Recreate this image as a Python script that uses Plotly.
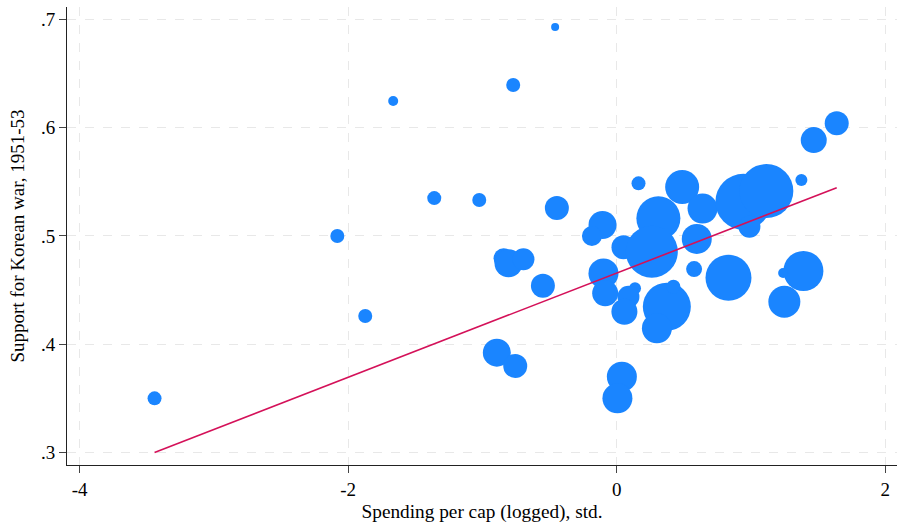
import plotly.graph_objects as go

# Spending per cap (logged), standardized
spending = [-3.442, -2.081, -1.873, -1.665, -1.359, -1.024, -0.771, -0.459, -0.446,
            1.638, 1.467, 1.375, 0.162, 0.487, 0.639, 0.943, 1.114, 0.988, 0.310,
            -0.106, -0.185, 0.050, 0.261, 0.596, 0.576, 0.832, 1.390, 1.248,
            -0.843, -0.806, -0.695, -0.550, -0.099, -0.086, 0.136, 0.087, 0.057,
            0.373, 0.422, 0.299, -0.893, -0.756, 0.038, 0.005, 1.239]
# Support for Korean war, 1951-53
support = [0.3499, 0.4999, 0.4260, 0.6247, 0.5350, 0.5332, 0.6395, 0.6931, 0.5258,
           0.6041, 0.5886, 0.5517, 0.5486, 0.5452, 0.5253, 0.5316, 0.5415, 0.5085, 0.5163,
           0.5101, 0.4999, 0.4895, 0.4854, 0.4972, 0.4694, 0.4614, 0.4676, 0.4392,
           0.4793, 0.4747, 0.4784, 0.4540, 0.4654, 0.4470, 0.4516, 0.4438, 0.4299,
           0.4346, 0.4530, 0.4146, 0.3921, 0.3798, 0.3699, 0.3499, 0.4657]
# analytic weights (marker area)
weights = [49, 49, 49, 25, 49, 49, 49, 16, 144,
           144, 169, 36, 49, 289, 225, 784, 729, 121, 484,
           196, 100, 144, 676, 225, 64, 529, 400, 256,
           100, 196, 121, 144, 225, 169, 36, 121, 169,
           576, 49, 225, 196, 144, 225, 225, 25]

# weighted linear fit
fit_intercept = 0.4657
fit_slope = 0.04815

x_ticks = [-4, -2, 0, 2]
x_ticktext = ["-4", "-2", "0", "2"]
y_ticks = [0.3, 0.4, 0.5, 0.6, 0.7]
y_ticktext = [".3", ".4", ".5", ".6", ".7"]

x_title = "Spending per cap (logged), std."
y_title = "Support for Korean war, 1951-53"

BLUE = "#1A85FF"
RED = "#D41159"
FONT = "Liberation Serif, Times New Roman, serif"

fig = go.Figure()
fig.add_trace(go.Scatter(
    x=spending, y=support, mode="markers",
    marker=dict(size=weights, sizemode="area", sizeref=0.5, color=BLUE,
                line=dict(width=0), opacity=1),
    showlegend=False, hoverinfo="x+y"))

x0, x1 = min(spending), max(spending)
fig.add_trace(go.Scatter(
    x=[x0, x1], y=[fit_intercept + fit_slope * x0, fit_intercept + fit_slope * x1],
    mode="lines", line=dict(color=RED, width=1.6), showlegend=False))

axis_common = dict(
    showgrid=True, gridcolor="#E8E8E8", griddash="dash", gridwidth=1,
    zeroline=False, showline=True, linecolor="#222", linewidth=1,
    ticks="outside", ticklen=7, tickcolor="#444", tickwidth=1,
    automargin=False, tickfont=dict(size=19),
)

fig.update_layout(
    width=897, height=526,
    margin=dict(l=67, r=0, t=7, b=61),
    paper_bgcolor="white", plot_bgcolor="white",
    font=dict(family=FONT, size=19, color="black"),
    xaxis=dict(range=[-4.094, 2.087], tickvals=x_ticks, ticktext=x_ticktext,
               title=dict(text=x_title, standoff=5, font=dict(size=19.3)),
               **axis_common),
    yaxis=dict(range=[0.2883, 0.7116], tickvals=y_ticks, ticktext=y_ticktext,
               title=dict(text=y_title, standoff=11, font=dict(size=19)),
               **axis_common),
)

fig.write_html(
    "out.html",
    config={"displayModeBar": False},
    post_script="document.body.style.margin='0';document.body.style.overflow='hidden';",
)
